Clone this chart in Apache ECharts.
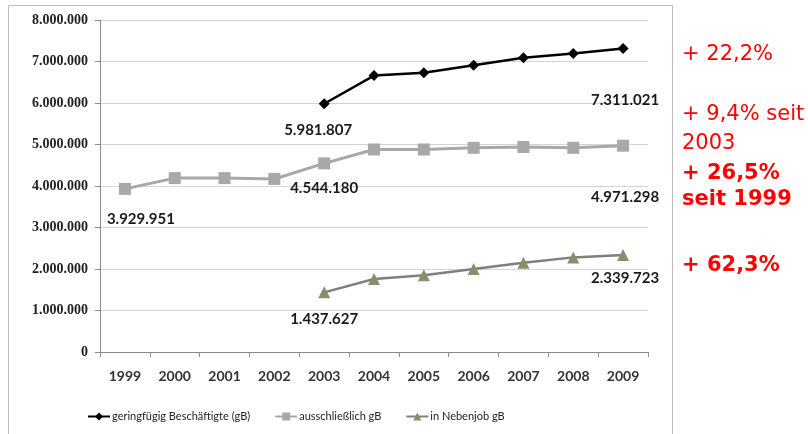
<!DOCTYPE html>
<html>
<head>
<meta charset="utf-8">
<script src="https://cdn.jsdelivr.net/npm/echarts@6/dist/echarts.min.js"></script>
<style>
  html, body { margin: 0; padding: 0; background: #fff; }
  #chart { width: 808px; height: 434px; }
</style>
</head>
<body>
<div id="chart"></div>
<script>
// Jahre
var years = ['1999', '2000', '2001', '2002', '2003', '2004', '2005', '2006', '2007', '2008', '2009'];

// Werte je Reihe
var geringfuegig = [null, null, null, null, 5981807, 6660000, 6730000, 6910000, 7090000, 7190000, 7311021];
var ausschliesslich = [3929951, 4190000, 4190000, 4170000, 4544180, 4880000, 4880000, 4920000, 4940000, 4920000, 4971298];
var nebenjob = [null, null, null, null, 1437627, 1760000, 1850000, 2000000, 2150000, 2280000, 2339723];

var seriesNames = ['geringfügig Beschäftigte (gB)', 'ausschließlich gB', 'in Nebenjob gB'];

// welche Punkte beschriftet sind
var labelIdxGeringfuegig = [4, 10];
var labelIdxAusschliesslich = [0, 4, 10];
var labelIdxNebenjob = [4, 10];

// Texte rechts
var notes = ['+ 22,2%', '+ 9,4% seit', '2003', '+ 26,5%', 'seit 1999', '+ 62,3%'];

function fmt(v) {
    return String(v).replace(/\B(?=(\d{3})+(?!\d))/g, '.');
}

// Versatz der Beschriftungen
var labelOffsets = {
    '0-4': [-6, 8], '0-10': [2, 34],
    '1-0': [16, 12], '1-4': [0, 6], '1-10': [2, 33],
    '2-4': [0, 8], '2-10': [2, 5]
};

function buildData(values, idxList, s) {
    return values.map(function (v, i) {
        if (idxList.indexOf(i) < 0) return v;
        return {
            value: v,
            label: {
                show: true,
                position: 'bottom',
                offset: labelOffsets[s + '-' + i],
                formatter: function (p) { return fmt(p.value); }
            }
        };
    });
}

var labelStyle = {
    show: false,
    fontFamily: 'Lato',
    fontWeight: 'bold',
    fontSize: 15,
    color: '#1a1a1a'
};

var chart = echarts.init(document.getElementById('chart'));

var noteTops = [44, 104, 133, 163, 189, 255];
var noteBold = [false, false, false, true, true, true];

var graphics = [{
    type: 'rect',
    shape: { x: 8.5, y: 5.5, width: 664, height: 440 },
    style: { fill: 'none', stroke: '#bdbdbd', lineWidth: 1 },
    silent: true
}];
notes.forEach(function (t, i) {
    graphics.push({
        type: 'text',
        left: 682,
        top: noteTops[i],
        style: {
            text: t,
            fill: '#ff0000',
            font: (noteBold[i] ? 'bold ' : '') + '21px "DejaVu Sans"'
        }
    });
});

var option = {
    animation: false,
    grid: { left: 100, right: 160, top: 20, bottom: 82 },
    legend: {
        left: 82,
        top: 406,
        itemWidth: 22,
        itemHeight: 10,
        itemGap: 24,
        textStyle: { fontFamily: 'Lato', fontSize: 11, color: '#222', padding: [0, 0, 0, -3] },
        data: seriesNames
    },
    xAxis: {
        type: 'category',
        data: years,
        boundaryGap: true,
        axisLine: { lineStyle: { color: '#8c8c8c' } },
        axisTick: { show: true, length: 5, lineStyle: { color: '#8c8c8c' } },
        axisLabel: { fontFamily: 'Lato', fontWeight: 'bold', fontSize: 14, color: '#333', margin: 17 }
    },
    yAxis: {
        type: 'value',
        min: 0,
        max: 8000000,
        interval: 1000000,
        axisLine: { show: true, lineStyle: { color: '#8c8c8c' } },
        axisTick: { show: true, length: 5, lineStyle: { color: '#8c8c8c' } },
        splitLine: { lineStyle: { color: '#d4d4d4' } },
        axisLabel: {
            fontFamily: 'Liberation Serif',
            fontWeight: 'bold',
            fontSize: 14,
            color: '#222',
            margin: 12,
            formatter: function (v) { return fmt(v); }
        }
    },
    series: [
        {
            name: seriesNames[0],
            type: 'line',
            data: buildData(geringfuegig, labelIdxGeringfuegig, 0),
            symbol: 'diamond',
            symbolSize: 11,
            lineStyle: { color: '#000', width: 2.5 },
            itemStyle: { color: '#000' },
            label: labelStyle
        },
        {
            name: seriesNames[1],
            type: 'line',
            data: buildData(ausschliesslich, labelIdxAusschliesslich, 1),
            symbol: 'rect',
            symbolSize: 12,
            lineStyle: { color: '#a8a8a8', width: 3 },
            itemStyle: { color: '#a8a8a8' },
            label: labelStyle
        },
        {
            name: seriesNames[2],
            type: 'line',
            data: buildData(nebenjob, labelIdxNebenjob, 2),
            symbol: 'triangle',
            symbolSize: 12,
            lineStyle: { color: '#7f7f7f', width: 2.5 },
            itemStyle: { color: '#8a8f6a' },
            label: labelStyle
        }
    ],
    graphic: graphics
};

chart.setOption(option);
</script>
</body>
</html>
